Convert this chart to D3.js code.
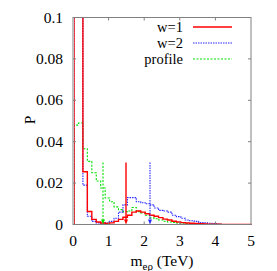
<!DOCTYPE html>
<html>
<head>
<meta charset="utf-8">
<script src="https://cdn.jsdelivr.net/npm/d3@7"></script>
<style>
  body { margin: 0; background: #fff; }
  svg text { font-family: "Liberation Serif", "DejaVu Serif", serif; fill: #000; }
</style>
</head>
<body>
<div id="chart"></div>
<script>
// bin width 0.125 TeV, bins start at 0
var binWidth = 0.125;
var w1Values = [0.2, 0.15, 0.0255, 0.0063, 0.0025, 0.0012, 0.0007, 0.0005,
    0.0008, 0.0015, 0.0025, 0.0035, 0.0045, 0.006, 0.0065, 0.006,
    0.0052, 0.0045, 0.004, 0.0033, 0.0026, 0.0022, 0.0016, 0.0012,
    0.0009, 0.0007, 0.0006, 0.0005, 0.0004, 0.0003, 0.0002, 0.0002, 0.0001];
var w2Values = [0.25, 0.12, 0.019, 0.004, 0.0015, 0.0008, 0.0006, 0.0008,
    0.0015, 0.003, 0.006, 0.0095, 0.013, 0.013, 0.011, 0.0105,
    0.01, 0.0095, 0.008, 0.0068, 0.0065, 0.006, 0.0045, 0.0038,
    0.003, 0.0022, 0.0018, 0.0015, 0.001, 0.0008, 0.0006, 0.0005, 0.0002];
var profileValues = [0.048, 0.049, 0.0366, 0.0305, 0.025, 0.021, 0.0176, 0.0128,
    0.011, 0.0085, 0.0072, 0.0062, 0.0065, 0.0082, 0.0062, 0.0056,
    0.0045, 0.0032, 0.0028, 0.0022, 0.0016, 0.0012, 0.001, 0.0008,
    0.0006, 0.0005, 0.0004, 0.0003, 0.0002, 0.0002, 0.0001, 0.0001, 0.0001];
// arrow markers: position (TeV) and top (P)
var markerX = [1.5, 2.15, 0.85];
var markerTop = 0.03;
var seriesNames = ["w=1", "w=2", "profile"];
var xTicks = [0, 1, 2, 3, 4, 5];
var yTicks = [0, 0.02, 0.04, 0.06, 0.08, 0.1];

var width = 277, height = 271;
var margin = {top: 17.5, right: 26, bottom: 46.5, left: 73};

var svg = d3.select("#chart").append("svg")
    .attr("width", width)
    .attr("height", height);

var x = d3.scaleLinear().domain([0, 5]).range([margin.left, width - margin.right]);
var y = d3.scaleLinear().domain([0, 0.1]).range([height - margin.bottom, margin.top]);

var styles = [
    {color: "#ff0000", dash: null, w: 1.4},
    {color: "#2a2aff", dash: "1.5,1", w: 1.1},
    {color: "#00e000", dash: "2,1.5", w: 1.1}
];

svg.append("clipPath").attr("id", "plotclip")
    .append("rect")
    .attr("x", x(0)).attr("y", y(0.1))
    .attr("width", x(5) - x(0)).attr("height", y(0) - y(0.1));

// histograms as steps
var stepLine = d3.line()
    .x(function (d) { return x(d[0]); })
    .y(function (d) { return y(d[1]); })
    .curve(d3.curveStepAfter);

function toSteps(vals) {
    var pts = [[0, 0]];
    vals.forEach(function (v, i) { pts.push([i * binWidth, v]); });
    pts.push([vals.length * binWidth, 0]);
    pts.push([5, 0]);
    return pts;
}

var plot = svg.append("g").attr("clip-path", "url(#plotclip)")
    .attr("transform", "translate(1,0)");

[profileValues, w2Values, w1Values].forEach(function (vals, k) {
    var s = styles[2 - k];
    plot.append("path")
        .attr("d", stepLine(toSteps(vals)))
        .attr("fill", "none")
        .attr("stroke", s.color)
        .attr("stroke-width", s.w)
        .attr("stroke-dasharray", s.dash);
});

// arrows
markerX.forEach(function (mx, i) {
    var s = styles[i];
    var px = Math.round(x(mx));
    svg.append("line")
        .attr("x1", px).attr("x2", px)
        .attr("y1", y(markerTop)).attr("y2", y(0) - 3)
        .attr("stroke", s.color)
        .attr("stroke-width", s.w)
        .attr("stroke-dasharray", s.dash);
    svg.append("path")
        .attr("d", "M" + (px - 2) + "," + (y(0) - 5) + "L" + (px + 2) + "," + (y(0) - 5) + "L" + px + "," + y(0) + "Z")
        .attr("fill", s.color);
});

// frame
svg.append("rect")
    .attr("x", x(0)).attr("y", y(0.1))
    .attr("width", x(5) - x(0)).attr("height", y(0) - y(0.1))
    .attr("fill", "none").attr("stroke", "#808080").attr("stroke-width", 1);

// inward ticks on all sides
var tickLen = 3;
xTicks.slice(1, -1).forEach(function (t) {
    svg.append("line").attr("x1", x(t)).attr("x2", x(t))
        .attr("y1", y(0)).attr("y2", y(0) - tickLen).attr("stroke", "#808080");
    svg.append("line").attr("x1", x(t)).attr("x2", x(t))
        .attr("y1", y(0.1)).attr("y2", y(0.1) + tickLen).attr("stroke", "#808080");
});
yTicks.slice(1, -1).forEach(function (t) {
    svg.append("line").attr("x1", x(0)).attr("x2", x(0) + tickLen)
        .attr("y1", y(t)).attr("y2", y(t)).attr("stroke", "#808080");
    svg.append("line").attr("x1", x(5)).attr("x2", x(5) - tickLen)
        .attr("y1", y(t)).attr("y2", y(t)).attr("stroke", "#808080");
});

// tick labels
svg.selectAll(".xl").data(xTicks).enter().append("text")
    .attr("x", function (d) { return x(d); })
    .attr("y", y(0) + 21)
    .attr("text-anchor", "middle")
    .style("font-size", "15.5px")
    .text(function (d) { return d; });

svg.selectAll(".yl").data(yTicks).enter().append("text")
    .attr("x", x(0) - 10)
    .attr("y", function (d) { return y(d) + 5; })
    .attr("text-anchor", "end")
    .style("font-size", "15.5px")
    .text(function (d) { return d; });

// axis titles
svg.append("text")
    .attr("transform", "translate(35,120) rotate(-90)")
    .attr("text-anchor", "middle")
    .style("font-size", "15.5px")
    .text("P");

var xt = svg.append("text")
    .attr("x", (x(0) + x(5)) / 2)
    .attr("y", 266)
    .attr("text-anchor", "middle")
    .style("font-size", "15.5px");
xt.append("tspan").text("m");
xt.append("tspan").attr("dy", 4).style("font-size", "11px").text("eρ");
xt.append("tspan").attr("dy", -4).text(" (TeV)");

// legend
seriesNames.forEach(function (name, i) {
    var ly = 27 + i * 16;
    svg.append("text")
        .attr("x", 183).attr("y", ly + 5)
        .attr("text-anchor", "end")
        .style("font-size", "14.5px")
        .text(name);
    svg.append("line")
        .attr("x1", 193).attr("x2", 232)
        .attr("y1", ly).attr("y2", ly)
        .attr("stroke", styles[i].color)
        .attr("stroke-width", styles[i].w)
        .attr("stroke-dasharray", styles[i].dash);
});
</script>
</body>
</html>
